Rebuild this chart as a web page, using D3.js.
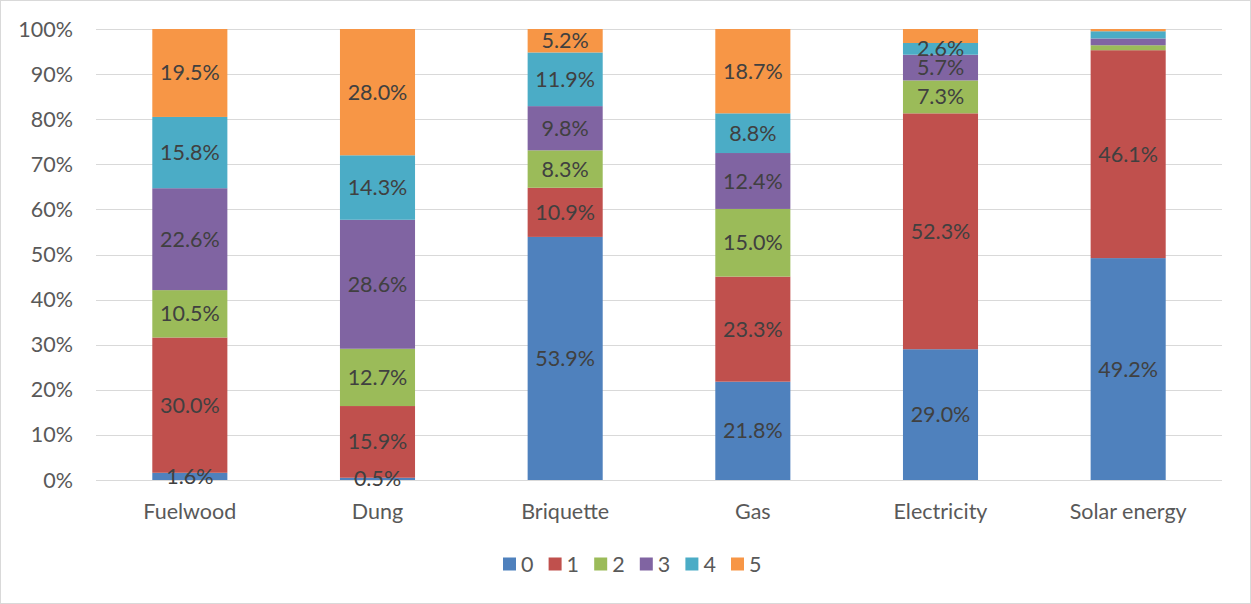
<!DOCTYPE html>
<html>
<head>
<meta charset="utf-8">
<script src="https://cdn.jsdelivr.net/npm/d3@7"></script>
<style>
  body { margin: 0; background: #fff; }
  text { font-family: Lato, "Open Sans", sans-serif; fill: #404040; }
</style>
</head>
<body>
<div id="chart"></div>
<script>
// categories and series (share in %)
var categories = ["Fuelwood", "Dung", "Briquette", "Gas", "Electricity", "Solar energy"];
var seriesNames = ["0", "1", "2", "3", "4", "5"];
var s0 = [1.6, 0.5, 53.9, 21.8, 29.0, 49.2];
var s1 = [30.0, 15.9, 10.9, 23.3, 52.3, 46.1];
var s2 = [10.5, 12.7, 8.3, 15.0, 7.3, 1.1];
var s3 = [22.6, 28.6, 9.8, 12.4, 5.7, 1.5];
var s4 = [15.8, 14.3, 11.9, 8.8, 2.6, 1.6];
var s5 = [19.5, 28.0, 5.2, 18.7, 3.1, 0.5];
var yTicks = [0, 10, 20, 30, 40, 50, 60, 70, 80, 90, 100];
// segments without a data label: [series, category]
var unlabeled = [[5, 4], [2, 5], [3, 5], [4, 5], [5, 5]];

var colors = ["#4F81BD", "#C0504D", "#9BBB59", "#8064A2", "#4BACC6", "#F79646"];

var W = 1251, H = 604;
var margin = { top: 29, right: 29, bottom: 124, left: 96 };
var width = W - margin.left - margin.right,
    height = H - margin.top - margin.bottom;
var fs = 21.5;

var svg = d3.select("#chart").append("svg")
    .attr("width", W)
    .attr("height", H);

// chart border
svg.append("rect")
    .attr("x", 0.5).attr("y", 0.5)
    .attr("width", W - 1).attr("height", H - 1)
    .attr("fill", "#fff")
    .attr("stroke", "#d9d9d9");

var g = svg.append("g")
    .attr("transform", "translate(" + margin.left + "," + margin.top + ")");

var x = d3.scaleBand()
    .domain(categories)
    .range([0, width])
    .paddingInner(0.6)
    .paddingOuter(0.3);

var y = d3.scaleLinear()
    .domain([0, 100])
    .range([height, 0]);

// gridlines
g.selectAll(".grid")
    .data(yTicks)
    .enter().append("line")
    .attr("class", "grid")
    .attr("x1", 0).attr("x2", width)
    .attr("y1", function(d) { return Math.round(y(d)) + 0.5; })
    .attr("y2", function(d) { return Math.round(y(d)) + 0.5; })
    .attr("stroke", "#d9d9d9")
    .attr("stroke-width", 1);

// y axis labels
g.selectAll(".ytick")
    .data(yTicks)
    .enter().append("text")
    .attr("class", "ytick")
    .attr("x", -23)
    .attr("y", function(d) { return y(d); })
    .attr("dy", "0.35em")
    .attr("text-anchor", "end")
    .attr("font-size", fs)
    .style("fill", "#595959")
    .text(function(d) { return d + "%"; });

// stack the data
var table = categories.map(function(c, i) {
    return { cat: c, "0": s0[i], "1": s1[i], "2": s2[i], "3": s3[i], "4": s4[i], "5": s5[i] };
});
var stacked = d3.stack().keys(seriesNames)(table);

var layers = g.selectAll(".layer")
    .data(stacked)
    .enter().append("g")
    .attr("class", "layer")
    .attr("fill", function(d, i) { return colors[i]; });

layers.selectAll("rect")
    .data(function(d) { return d; })
    .enter().append("rect")
    .attr("x", function(d) { return x(d.data.cat); })
    .attr("width", x.bandwidth())
    .attr("y", function(d) { return y(d[1]); })
    .attr("height", function(d) { return y(d[0]) - y(d[1]); });

// data labels
function isHidden(si, ci) {
    return unlabeled.some(function(u) { return u[0] === si && u[1] === ci; });
}
stacked.forEach(function(layer, si) {
    layer.forEach(function(d, ci) {
        if (isHidden(si, ci)) return;
        g.append("text")
            .attr("x", x(d.data.cat) + x.bandwidth() / 2)
            .attr("y", y((d[0] + d[1]) / 2))
            .attr("dy", "0.35em")
            .attr("text-anchor", "middle")
            .attr("font-size", fs)
            .text((d[1] - d[0]).toFixed(1) + "%");
    });
});

// category labels
g.selectAll(".xlabel")
    .data(categories)
    .enter().append("text")
    .attr("class", "xlabel")
    .attr("x", function(d) { return x(d) + x.bandwidth() / 2; })
    .attr("y", height + 31)
    .attr("dy", "0.35em")
    .attr("text-anchor", "middle")
    .attr("font-size", fs)
    .style("fill", "#595959")
    .text(function(d) { return d; });

// legend
var legend = svg.append("g")
    .attr("transform", "translate(503,564)");

var items = legend.selectAll(".item")
    .data(seriesNames)
    .enter().append("g")
    .attr("class", "item")
    .attr("transform", function(d, i) { return "translate(" + (i * 45.6) + ",0)"; });

items.append("rect")
    .attr("x", 0).attr("y", -6.5)
    .attr("width", 13).attr("height", 13)
    .attr("fill", function(d, i) { return colors[i]; });

items.append("text")
    .attr("x", 18)
    .attr("y", 0)
    .attr("dy", "0.35em")
    .attr("font-size", fs)
    .style("fill", "#595959")
    .text(function(d) { return d; });
</script>
</body>
</html>
